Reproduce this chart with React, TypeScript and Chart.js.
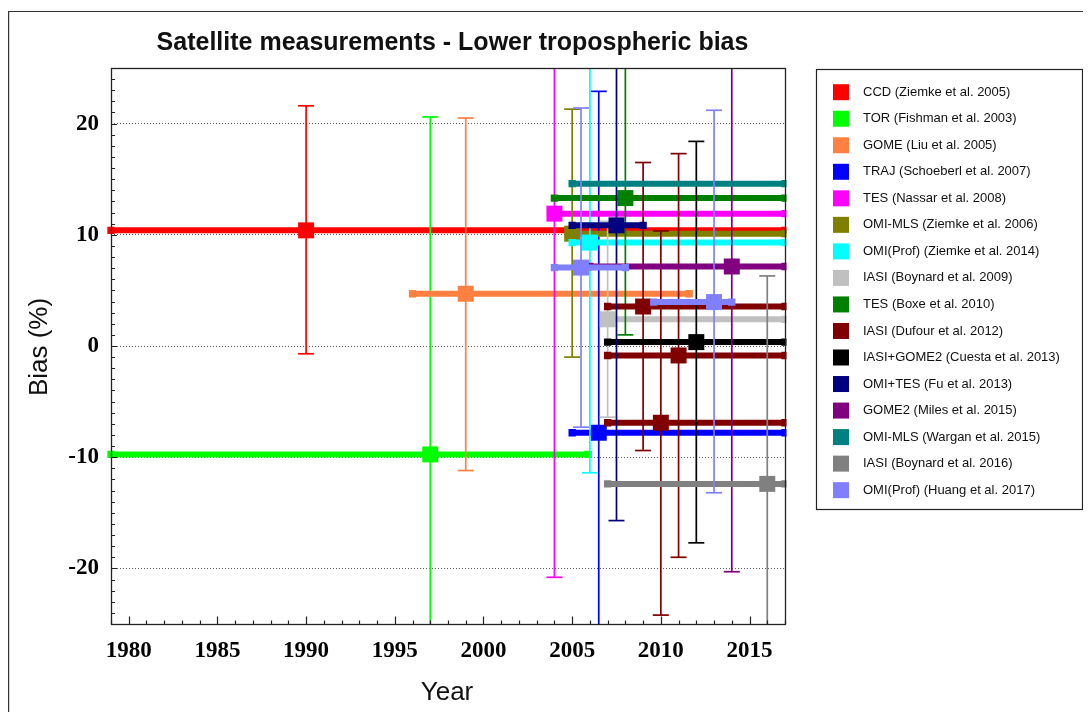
import React, { useEffect, useRef } from "react";
import { Chart, registerables } from "chart.js";

Chart.register(...registerables);

// ---------------- DATA ----------------
const seriesLabels = [
  "CCD (Ziemke et al. 2005)",
  "TOR (Fishman et al. 2003)",
  "GOME (Liu et al. 2005)",
  "TRAJ (Schoeberl et al. 2007)",
  "TES (Nassar et al. 2008)",
  "OMI-MLS (Ziemke et al. 2006)",
  "OMI(Prof) (Ziemke et al. 2014)",
  "IASI (Boynard et al. 2009)",
  "TES (Boxe et al. 2010)",
  "IASI (Dufour et al. 2012)",
  "IASI+GOME2 (Cuesta et al. 2013)",
  "OMI+TES (Fu et al. 2013)",
  "GOME2 (Miles et al. 2015)",
  "OMI-MLS (Wargan et al. 2015)",
  "IASI (Boynard et al. 2016)",
  "OMI(Prof) (Huang et al. 2017)",
];

const seriesColors = [
  "#ff0000", "#00ff00", "#ff8040", "#0000ff", "#ff00ff", "#808000", "#00ffff", "#c0c0c0",
  "#008000", "#800000", "#000000", "#000080", "#800080", "#008080", "#808080", "#8080ff",
];

// Plotted measurements (marker + vertical error bar)
const pointSeries = [0, 1, 2, 3, 4, 5, 6, 7, 8, 9, 9, 9, 10, 11, 12, 14, 15, 15];
const pointYear = [1990, 1997, 1999, 2006.5, 2004, 2005, 2006, 2007, 2008, 2009, 2010, 2011, 2012, 2007.5, 2014, 2016, 2005.5, 2013];
const pointBias = [10.4, -9.75, 4.7, -7.8, 11.9, 10.1, 9.3, 2.4, 13.3, 3.55, -6.9, -0.85, 0.35, 10.85, 7.15, -12.4, 7.05, 3.95];
const errorLow = [-0.7, -27, -11.2, -27, -20.8, -1.0, -11.4, -6.4, 1.0, -9.4, -24.2, -19.0, -17.7, -15.7, -20.3, -27, -7.3, -13.2];
const errorHigh = [21.6, 20.6, 20.5, 22.9, 27, 21.3, 27, 11.2, 27, 16.5, 10.35, 17.3, 18.4, 27, 27, 6.3, 21.4, 21.2];

// Measurement periods (horizontal bars)
const periodSeries = [0, 1, 2, 3, 4, 5, 6, 7, 8, 9, 9, 9, 10, 11, 12, 13, 14, 15, 15];
const periodStart = [1979, 1979, 1996, 2005, 2004, 2005, 2005, 2007, 2004, 2007, 2007, 2007, 2007, 2005, 2006, 2005, 2007, 2004, 2009.6];
const periodEnd = [2017, 2005.9, 2011.6, 2017, 2017, 2017, 2017, 2017, 2017, 2017, 2017, 2017, 2017, 2009, 2017, 2017, 2017, 2008, 2014];
const periodBias = [10.4, -9.75, 4.7, -7.8, 11.9, 10.1, 9.3, 2.4, 13.3, 3.55, -6.9, -0.85, 0.35, 10.85, 7.15, 14.6, -12.4, 7.05, 3.95];

const xTickValues = [1980, 1985, 1990, 1995, 2000, 2005, 2010, 2015];
const yTickValues = [-20, -10, 0, 10, 20];

const titleText = "Satellite measurements - Lower tropospheric bias";
const xTitle = "Year";
const yTitle = "Bias (%)";

// ---------------- CHART ----------------
const W = 1075;
const H = 704;

function buildDatasets() {
  const ds: any[] = [];
  seriesLabels.forEach((label, s) => {
    const color = seriesColors[s];
    periodSeries.forEach((ps, k) => {
      if (ps !== s) return;
      ds.push({
        label,
        data: [
          { x: periodStart[k], y: periodBias[k] },
          { x: periodEnd[k], y: periodBias[k] },
        ],
        borderColor: color,
        backgroundColor: color,
        borderWidth: 6,
        borderCapStyle: "butt",
        pointStyle: "rect",
        pointRadius: 5.2,
        pointBorderWidth: 0,
        pointBackgroundColor: color,
        showLine: true,
        tension: 0,
        fill: false,
        clip: { left: 5, right: 1.5, top: 0, bottom: 0 },
      });
    });
    pointSeries.forEach((ps, k) => {
      if (ps !== s) return;
      ds.push({
        label,
        data: [
          { x: pointYear[k], y: errorLow[k] },
          { x: pointYear[k], y: errorHigh[k] },
        ],
        borderColor: color,
        backgroundColor: color,
        borderWidth: 1.7,
        pointStyle: "line",
        pointRadius: 8,
        pointBorderWidth: 1.7,
        pointBorderColor: color,
        showLine: true,
        tension: 0,
        fill: false,
      });
    });
    pointSeries.forEach((ps, k) => {
      if (ps !== s) return;
      ds.push({
        label,
        data: [{ x: pointYear[k], y: pointBias[k] }],
        borderColor: color,
        backgroundColor: color,
        pointStyle: "rect",
        pointRadius: 11.3,
        pointBorderWidth: 0,
        pointBackgroundColor: color,
        showLine: false,
      });
    });
  });
  ds.forEach((d, i) => (d.order = -i));
  return ds;
}

const decorPlugin = {
  id: "decor",
  beforeDraw(chart: any) {
    const ctx = chart.ctx;
    ctx.save();
    ctx.fillStyle = "#ffffff";
    ctx.fillRect(0, 0, chart.width, chart.height);
    // outer frame
    ctx.strokeStyle = "#333333";
    ctx.lineWidth = 1.2;
    ctx.beginPath();
    ctx.moveTo(0.6, chart.height + 5);
    ctx.lineTo(0.6, 3.5);
    ctx.lineTo(chart.width + 5, 3.5);
    ctx.stroke();
    ctx.restore();
  },
  afterDatasetsDraw(chart: any) {
    const ctx = chart.ctx;
    const a = chart.chartArea;
    const xs = chart.scales.x;
    const ys = chart.scales.y;
    ctx.save();
    ctx.strokeStyle = "#222222";
    ctx.lineWidth = 1.2;
    // y minor ticks
    ctx.beginPath();
    for (let v = Math.ceil(ys.min); v <= ys.max; v++) {
      const py = Math.round(ys.getPixelForValue(v)) + 0.5;
      const len = v % 10 === 0 ? 6 : 4;
      ctx.moveTo(a.left, py);
      ctx.lineTo(a.left + len, py);
    }
    // x ticks
    for (let v = Math.ceil(xs.min); v <= xs.max; v++) {
      const px = Math.round(xs.getPixelForValue(v)) + 0.5;
      const len = v % 5 === 0 ? 7.5 : 3.5;
      ctx.moveTo(px, a.bottom);
      ctx.lineTo(px, a.bottom - len);
    }
    ctx.stroke();
    // plot border
    ctx.lineWidth = 1.3;
    ctx.strokeRect(a.left + 0.5, a.top + 0.5, a.right - a.left, a.bottom - a.top);
    ctx.restore();
  },
  afterDraw(chart: any) {
    const ctx = chart.ctx;
    const a = chart.chartArea;
    ctx.save();
    ctx.fillStyle = "#111111";
    // title
    ctx.font = 'bold 25px "Liberation Sans", Arial, sans-serif';
    ctx.textAlign = "center";
    ctx.textBaseline = "alphabetic";
    ctx.fillText(titleText, 444.5, 42);
    // x title
    ctx.font = '26px "Liberation Sans", Arial, sans-serif';
    ctx.fillText(xTitle, (a.left + a.right) / 2 - 1, 692);
    // y title
    ctx.save();
    ctx.translate(31.5, (a.top + a.bottom) / 2 + 1);
    ctx.rotate(-Math.PI / 2);
    ctx.textBaseline = "middle";
    ctx.fillText(yTitle, 0, 0);
    ctx.restore();
    // legend
    const lx = 808.5, ly = 61.5, lw = 266, lh = 440;
    ctx.strokeStyle = "#222222";
    ctx.lineWidth = 1.2;
    ctx.strokeRect(lx, ly, lw, lh);
    ctx.font = '13px "Liberation Sans", Arial, sans-serif';
    ctx.textAlign = "left";
    ctx.textBaseline = "middle";
    seriesLabels.forEach((label, i) => {
      const cy = 84.2 + i * 26.53;
      ctx.fillStyle = seriesColors[i];
      ctx.fillRect(825, cy - 8, 16, 16);
      ctx.fillStyle = "#111111";
      ctx.fillText(label, 855, cy);
    });
    ctx.restore();
  },
};

export default function App() {
  const ref = useRef<HTMLCanvasElement | null>(null);
  useEffect(() => {
    if (!ref.current) return;
    const chart = new Chart(ref.current, {
      type: "line",
      data: { datasets: buildDatasets() },
      plugins: [decorPlugin],
      options: {
        animation: false,
        responsive: false,
        maintainAspectRatio: false,
        devicePixelRatio: 1,
        events: [],
        layout: { padding: { left: 0, top: 60, right: 298, bottom: 0 } },
        plugins: {
          legend: { display: false },
          tooltip: { enabled: false },
          title: { display: false },
        },
        scales: {
          x: {
            type: "linear",
            min: 1979,
            max: 2017,
            afterFit: (s: any) => {
              s.height = 88;
            },
            afterBuildTicks: (s: any) => {
              s.ticks = xTickValues.map((v) => ({ value: v }));
            },
            grid: { display: false, drawTicks: false },
            border: { display: false },
            ticks: {
              padding: 13,
              maxRotation: 0,
              autoSkip: false,
              color: "#000000",
              font: { family: '"Liberation Serif", "Times New Roman", serif', weight: "bold", size: 23 },
              callback: (v: any) => String(v),
            },
          },
          y: {
            type: "linear",
            min: -25,
            max: 25,
            afterFit: (s: any) => {
              s.width = 103;
            },
            afterBuildTicks: (s: any) => {
              s.ticks = yTickValues.map((v) => ({ value: v }));
            },
            grid: { display: true, drawTicks: false, color: "#606060", lineWidth: 1 },
            border: { display: false, dash: [1, 2] },
            ticks: {
              padding: 12,
              autoSkip: false,
              color: "#000000",
              font: { family: '"Liberation Serif", "Times New Roman", serif', weight: "bold", size: 23 },
              callback: (v: any) => String(v),
            },
          },
        },
      } as any,
    });
    return () => chart.destroy();
  }, []);
  return (
    <div style={{ position: "relative", width: W, height: H }}>
      <canvas ref={ref} width={W} height={H} style={{ display: "block", width: W, height: H }} />
    </div>
  );
}
